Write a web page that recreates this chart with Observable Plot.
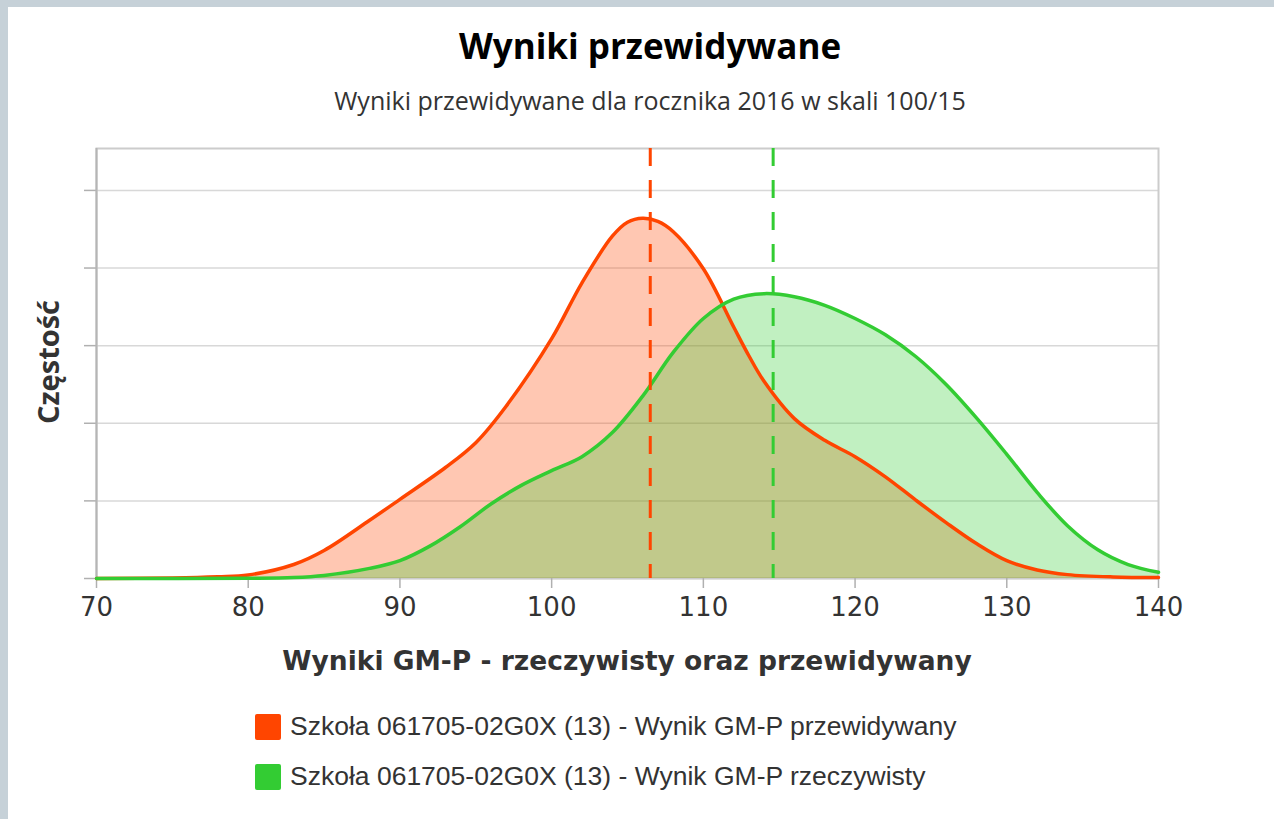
<!DOCTYPE html>
<html>
<head>
<meta charset="utf-8">
<script src="https://cdn.jsdelivr.net/npm/d3@7"></script>
<script src="https://cdn.jsdelivr.net/npm/@observablehq/plot@0.6"></script>
<style>
  html, body { margin: 0; padding: 0; }
  body { width: 1274px; height: 819px; overflow: hidden; background: #c6d1d8; position: relative; }
  #panel { position: absolute; left: 8px; top: 7px; width: 1266px; height: 812px; background: #fff; }
  .abs { position: absolute; white-space: nowrap; }
  #title { left: 650px; top: 45px; transform: translate(-50%, -50%); font: bold 35px "Open Sans", sans-serif; line-height: 35px; color: #000; }
  #subtitle { left: 650px; top: 100px; transform: translate(-50%, -50%); font: 25px "Open Sans", sans-serif; line-height: 25px; color: #333; }
  #ytitle { left: 47px; top: 362px; transform: translate(-50%, -50%) rotate(-90deg); font: bold 29px "Open Sans", sans-serif; line-height: 29px; color: #333; }
  #xtitle { left: 627px; top: 660px; transform: translate(-50%, -50%); font: bold 26.5px "DejaVu Sans", sans-serif; line-height: 27px; color: #333; }
  #chart { position: absolute; left: 0; top: 120px; }
  .leg { position: absolute; left: 255px; display: flex; align-items: center; font: 26.5px "Liberation Sans", Arial, sans-serif; color: #333; }
  .sw { width: 26px; height: 26px; border-radius: 2px; margin-right: 9px; }
</style>
</head>
<body>
<div id="panel"></div>
<div id="title" class="abs">Wyniki przewidywane</div>
<div id="subtitle" class="abs">Wyniki przewidywane dla rocznika 2016 w skali 100/15</div>
<div id="ytitle" class="abs">Częstość</div>
<div id="xtitle" class="abs">Wyniki GM-P - rzeczywisty oraz przewidywany</div>
<div id="chart"></div>
<div id="leg1" class="leg" style="top:711px"><div class="sw" style="background:#ff4500"></div><span>Szkoła 061705-02G0X (13) - Wynik GM-P przewidywany</span></div>
<div id="leg2" class="leg" style="top:761px"><div class="sw" style="background:#33cc33"></div><span>Szkoła 061705-02G0X (13) - Wynik GM-P rzeczywisty</span></div>
<script>
// Series: predicted (red) and actual (green) score distributions
const predX = [70, 75, 78, 80, 83, 85, 88, 90, 93, 95, 97, 100, 102, 104, 105, 106, 107, 108, 110, 112, 113, 114, 116, 118, 120, 122, 124, 126, 128, 130, 132, 134, 137, 140];
const predY = [0, 0.00006, 0.00022, 0.00045, 0.0018, 0.0036, 0.0075, 0.0102, 0.0143, 0.0175, 0.0222, 0.0309, 0.0381, 0.0441, 0.0459, 0.0464, 0.046, 0.0447, 0.0399, 0.0324, 0.0287, 0.0254, 0.0206, 0.0178, 0.0157, 0.0131, 0.0101, 0.0072, 0.0045, 0.0023, 0.0011, 0.0005, 0.0002, 0.00013];
const actX = [70, 80, 83, 85, 88, 90, 92, 94, 96, 98, 100, 102, 104, 106, 108, 110, 112, 114, 116, 118, 120, 122, 124, 126, 128, 130, 132, 134, 136, 138, 140];
const actY = [0, 0.00003, 0.00013, 0.0004, 0.0013, 0.0023, 0.0042, 0.0067, 0.0096, 0.012, 0.0139, 0.0157, 0.0188, 0.0235, 0.0291, 0.0335, 0.036, 0.0367, 0.0363, 0.0352, 0.0335, 0.0314, 0.0286, 0.025, 0.0207, 0.016, 0.0111, 0.0068, 0.0037, 0.0018, 0.0008];
const meanPred = 106.5;
const meanAct = 114.6;
const xTicks = [70, 80, 90, 100, 110, 120, 130, 140];
const yTicks = [0, 0.01, 0.02, 0.03, 0.04, 0.05];

const red = "#ff4500", green = "#33cc33";
const pred = predX.map((x, i) => ({x, y: predY[i]}));
const act = actX.map((x, i) => ({x, y: actY[i]}));
const curve = "catmull-rom";

const plot = Plot.plot({
  width: 1274,
  height: 560,
  marginLeft: 96,
  marginRight: 116,
  marginTop: 28,
  marginBottom: 102,
  x: {domain: [70, 140]},
  y: {domain: [0, 0.0554]},
  style: {background: "transparent", overflow: "visible"},
  marks: [
    Plot.gridY(yTicks, {stroke: "#d8d8d8", strokeOpacity: 1, strokeWidth: 1.5}),
    Plot.frame({stroke: "#cccccc", strokeWidth: 2}),
    Plot.axisY(yTicks, {tickFormat: () => "", tickSize: 12, stroke: "#b0b0b0", strokeWidth: 1.5, label: null}),
    Plot.axisX(xTicks, {tickSize: 10, tickPadding: 9, stroke: "#b0b0b0", strokeWidth: 1.5, fontSize: 26, fontFamily: "DejaVu Sans", fill: "#333", label: null}),
    Plot.ruleX([70], {stroke: "#b5b5b5", strokeWidth: 2}),
    Plot.areaY(pred, {x: "x", y: "y", fill: red, fillOpacity: 0.3, curve}),
    Plot.areaY(act, {x: "x", y: "y", fill: green, fillOpacity: 0.3, curve}),
    Plot.lineY(pred, {x: "x", y: "y", stroke: red, strokeWidth: 3.5, curve}),
    Plot.lineY(act, {x: "x", y: "y", stroke: green, strokeWidth: 3.5, curve}),
    Plot.ruleX([meanPred], {stroke: red, strokeWidth: 3, strokeDasharray: "18,14"}),
    Plot.ruleX([meanAct], {stroke: green, strokeWidth: 3, strokeDasharray: "18,14"})
  ]
});
document.getElementById("chart").appendChild(plot);
</script>
</body>
</html>
